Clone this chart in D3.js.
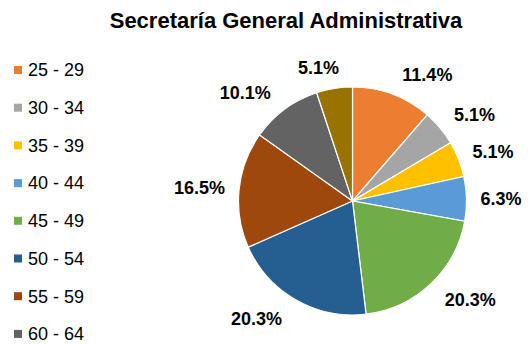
<!DOCTYPE html>
<html><head><meta charset="utf-8">
<script src="https://cdn.jsdelivr.net/npm/d3@7"></script>
<style>body{margin:0;background:#fff}svg{display:block}</style>
</head><body>
<script>
const title = "Secretaría General Administrativa";
const categories = ["25 - 29","30 - 34","35 - 39","40 - 44","45 - 49","50 - 54","55 - 59","60 - 64","65 - 69"];
const values = [11.4, 5.1, 5.1, 6.3, 20.3, 20.3, 16.5, 10.1, 5.1];
const colors = ["#ED7D31","#A5A5A5","#FFC000","#5B9BD5","#70AD47","#255E91","#9E480E","#636363","#997300"];

const W = 528, H = 345;
const svg = d3.select("body").append("svg").attr("width", W).attr("height", H);
const font = "'Liberation Sans', Arial, sans-serif";

svg.append("text").attr("x", 286).attr("y", 28).attr("text-anchor","middle")
  .attr("font-family", font).attr("font-weight","bold").attr("font-size", 22).attr("fill","#000").text(title);

// legend
const ly = d3.scalePoint().domain(categories).range([70, 70 + 37.7*8]);
const lg = svg.append("g").selectAll("g").data(categories).join("g")
  .attr("transform", d => `translate(14,${ly(d)})`);
lg.append("rect").attr("x",0).attr("y",-4).attr("width",8).attr("height",8).attr("fill",(d,i)=>colors[i]);
lg.append("text").attr("x",14).attr("y",0).attr("dy","0.35em").attr("font-family",font).attr("font-size",18).attr("fill","#000").text(d=>d);

// pie
const cx = 352.5, cy = 201, r = 114;
const pie = d3.pie().sort(null).value(d=>d);
const arcs = pie(values);
const arc = d3.arc().innerRadius(0).outerRadius(r);
const g = svg.append("g").attr("transform",`translate(${cx},${cy})`);
g.selectAll("path").data(arcs).join("path").attr("d",arc)
  .attr("fill",(d,i)=>colors[i]).attr("stroke","#fff").attr("stroke-width",1.2);

const fmt = d3.format(".1f");
const labels = g.selectAll("text.lab").data(arcs).join("text").attr("class","lab")
  .attr("font-family",font).attr("font-weight","bold").attr("font-size",18).attr("fill","#000")
  .attr("text-anchor","middle").attr("dy","0.35em").text(d=>fmt(d.data)+"%");
labels.each(function(d){
  const w = this.getComputedTextLength();
  const a = (d.startAngle + d.endAngle)/2;
  const s = Math.sin(a), c = Math.cos(a);
  const lim = w/2 + 14;
  const ox = Math.max(-lim, Math.min(lim, s*100));
  const oy = -c*21;
  d3.select(this).attr("x", s*r + ox).attr("y", -c*r + oy);
});
</script>
</body></html>
